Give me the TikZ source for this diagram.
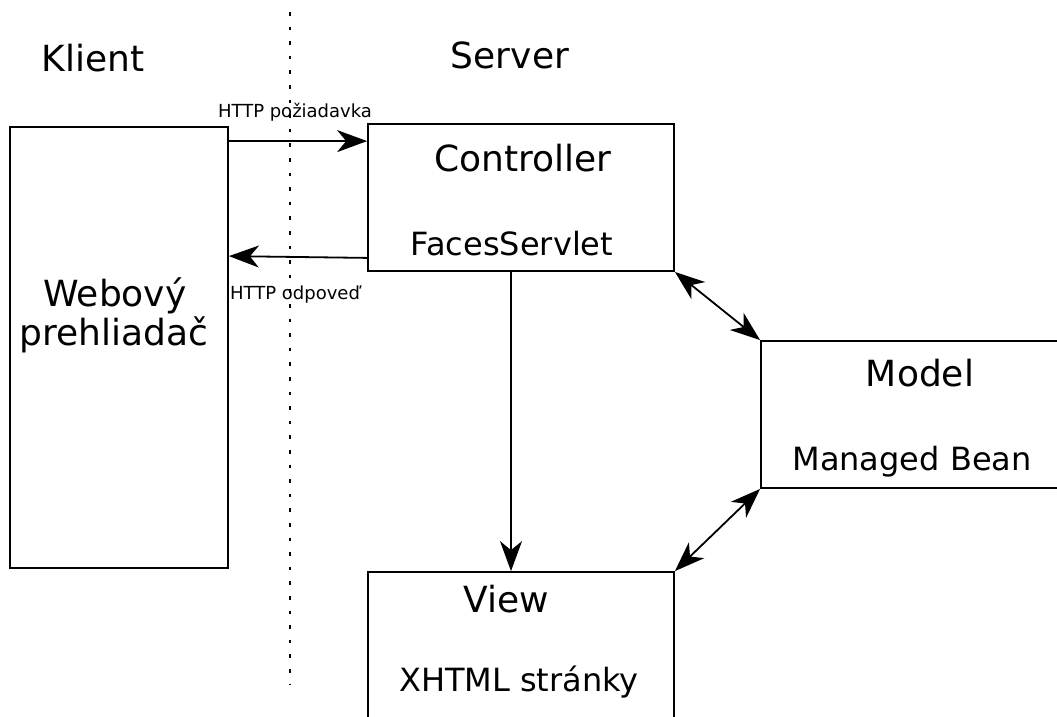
\documentclass[tikz,border=0pt]{standalone}
\usepackage{fontspec}
\setmainfont{DejaVu Sans}
\usetikzlibrary{arrows.meta}
\tikzset{
  box/.style={draw, line width=1.8pt, inner sep=0pt, fill=none},
  big/.style={font=\fontsize{36}{43}\selectfont, anchor=base, inner sep=0pt},
  mid/.style={font=\fontsize{32}{38}\selectfont, anchor=base, inner sep=0pt},
  small/.style={font=\fontsize{18}{22}\selectfont, anchor=base, inner sep=0pt},
  tip/.tip={Stealth[length=30pt, width=22pt, inset=9pt]},
  arr/.style={line width=1.8pt, -tip},
  biarr/.style={line width=1.8pt, tip-tip},
}
\begin{document}
\begin{tikzpicture}[x=1pt, y=-1pt]
\useasboundingbox (0,0) rectangle (1057,716);
\clip (0,0) rectangle (1057,716);

% client/server divider
\coordinate (divtop) at (290,12);
\coordinate (divbot) at (290,684);
\draw[line width=2pt, dash pattern=on 3.5pt off 11.1pt] (divtop) -- (divbot);

% side titles
\node[big] (klient) at (93,71) {Klient};
\node[big] (server) at (510,68) {Server};

% boxes
\node[box, minimum width=218pt, minimum height=441pt] (web) at (119,347.5) {};
\node[box, minimum width=306pt, minimum height=147pt] (ctrl) at (521,197.5) {};
\node[box, minimum width=400pt, minimum height=147pt] (model) at (961,414.5) {};
\node[box, minimum width=306pt, minimum height=200pt] (view) at (521,672) {};

% box texts
\node[big] (webt1) at (115,306) {Webový};
\node[big] (webt2) at (114,345) {prehliadač};
\node[big] (ctrlt) at (523,171) {Controller};
\node[mid] (ctrls) at (512,255) {FacesServlet};
\node[big] (modelt) at (920,386) {Model};
\node[mid] (models) at (912,470) {Managed Bean};
\node[big] (viewt) at (506,612) {View};
\node[mid] (views) at (519,691) {XHTML stránky};

% request / response
\draw[arr] ([yshift=-15pt]web.north east) -- ([yshift=-18pt]ctrl.north west);
\draw[arr] ([yshift=14pt]ctrl.south west) -- ([yshift=-130pt]web.north east);
\node[small] (req) at (295,117) {HTTP požiadavka};
\node[small] (resp) at (295,299) {HTTP odpoveď};

% controller to view, and model links
\draw[arr] ([xshift=-10pt]ctrl.south) -- ([xshift=-10pt]view.north);
\draw[biarr] (ctrl.south east) -- (model.north west);
\draw[biarr] (model.south west) -- (view.north east);
\end{tikzpicture}
\end{document}
